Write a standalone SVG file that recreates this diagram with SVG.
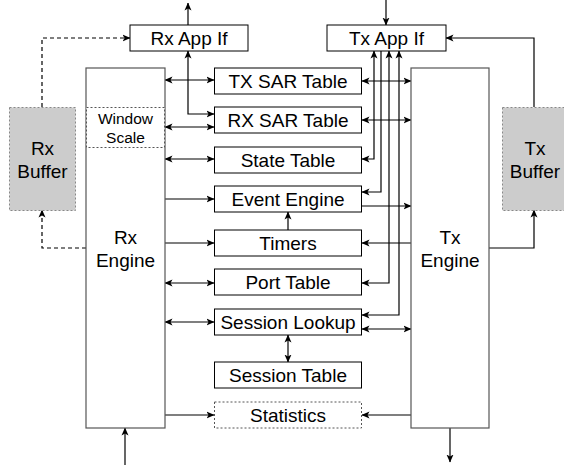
<svg xmlns="http://www.w3.org/2000/svg" width="564" height="465" viewBox="0 0 564 465">
<style>
.box{fill:#fff;stroke:#000;stroke-width:1}
.eng{fill:#fff;stroke:#555;stroke-width:1.2}
.dot{fill:#fff;stroke:#555;stroke-width:1;stroke-dasharray:2 2}
.buf{fill:#ccc;stroke:#888;stroke-width:1;stroke-dasharray:2 2}
.t{font-family:"Liberation Sans",Arial,sans-serif;font-size:19px;fill:#000;text-anchor:middle}
.s{font-family:"Liberation Sans",Arial,sans-serif;font-size:15.5px;fill:#000;text-anchor:middle}
.c{fill:none;stroke:#000;stroke-width:1.2}
.d{fill:none;stroke:#000;stroke-width:1.2;stroke-dasharray:4 3}
.e{marker-end:url(#a)}
.b{marker-start:url(#a);marker-end:url(#a)}
</style>
<defs>
<marker id="a" viewBox="0 0 8 8" refX="7.5" refY="4" markerWidth="8" markerHeight="8" markerUnits="userSpaceOnUse" orient="auto-start-reverse">
<path d="M0,0.5 L8,4 L0,7.5 L2,4 Z" fill="#000"/>
</marker>
</defs>
<g id="connectors">
<path class="c e" d="M188,25 V3"/>
<path class="c e" d="M386,0 V25"/>
<path class="d e" d="M42,107 V38 H130"/>
<path class="d e" d="M86,248 H42 V210"/>
<path class="c e" d="M489,248 H534 V210"/>
<path class="c e" d="M534,107 V38 H446"/>
<path class="c b" d="M188,51 V114 H214"/>
<path class="c b" d="M165,80 H214"/>
<path class="c b" d="M165,127 H214"/>
<path class="c b" d="M165,159 H214"/>
<path class="c e" d="M165,199 H214"/>
<path class="c e" d="M165,243 H214"/>
<path class="c b" d="M165,283 H214"/>
<path class="c b" d="M165,322 H214"/>
<path class="c e" d="M165,415 H214"/>
<path class="c e" d="M288,230 V212"/>
<path class="c b" d="M288,335 V362"/>
<path class="c b" d="M362,81 H411"/>
<path class="c b" d="M362,120 H411"/>
<path class="c b" d="M374,51 V159 H362"/>
<path class="c e" d="M381,51 V192 H362"/>
<path class="c b" d="M389,51 V283 H362"/>
<path class="c b" d="M399,51 V315 H362"/>
<path class="c e" d="M362,206 H411"/>
<path class="c e" d="M411,243 H362"/>
<path class="c b" d="M362,329 H411"/>
<path class="c e" d="M411,415 H362"/>
<path class="c e" d="M450,428 V462"/>
<path class="c e" d="M125,465 V428"/>
</g>
<g id="rx-app-if"><rect class="box" x="130" y="25" width="118" height="26"/><text class="t" x="189" y="45">Rx App If</text></g>
<g id="tx-app-if"><rect class="box" x="327" y="25" width="119" height="26"/><text class="t" x="386.5" y="45">Tx App If</text></g>
<g id="rx-buffer"><rect class="buf" x="9.5" y="107.5" width="66" height="103"/><text class="t" x="42.5" y="155">Rx</text><text class="t" x="42.5" y="178">Buffer</text></g>
<g id="tx-buffer"><rect class="buf" x="502.5" y="107.5" width="66" height="103"/><text class="t" x="535" y="155">Tx</text><text class="t" x="535" y="178">Buffer</text></g>
<g id="rx-engine"><rect class="eng" x="86" y="68" width="79" height="360"/><text class="t" x="125.5" y="244">Rx</text><text class="t" x="125.5" y="267">Engine</text></g>
<g id="window-scale"><rect class="dot" x="86.5" y="107.5" width="78" height="40"/><text class="s" x="125.5" y="123.5">Window</text><text class="s" x="125.5" y="143">Scale</text></g>
<g id="tx-engine"><rect class="eng" x="411" y="68" width="78" height="360"/><text class="t" x="450" y="244">Tx</text><text class="t" x="450" y="267">Engine</text></g>
<g id="tx-sar-table"><rect class="box" x="214.5" y="68" width="147" height="26"/><text class="t" x="288" y="88">TX SAR Table</text></g>
<g id="rx-sar-table"><rect class="box" x="214.5" y="107" width="147" height="26"/><text class="t" x="288" y="127">RX SAR Table</text></g>
<g id="state-table"><rect class="box" x="214.5" y="147" width="147" height="26"/><text class="t" x="288" y="167">State Table</text></g>
<g id="event-engine"><rect class="box" x="214.5" y="186" width="147" height="26"/><text class="t" x="288" y="206">Event Engine</text></g>
<g id="timers"><rect class="box" x="214.5" y="230" width="147" height="26"/><text class="t" x="288" y="250">Timers</text></g>
<g id="port-table"><rect class="box" x="214.5" y="269" width="147" height="26"/><text class="t" x="288" y="289">Port Table</text></g>
<g id="session-lookup"><rect class="box" x="214.5" y="309" width="147" height="26"/><text class="t" x="288" y="329">Session Lookup</text></g>
<g id="session-table"><rect class="box" x="214.5" y="362" width="147" height="26"/><text class="t" x="288" y="382">Session Table</text></g>
<g id="statistics"><rect class="dot" x="214.5" y="402" width="147" height="26"/><text class="t" x="288" y="422">Statistics</text></g>
</svg>
